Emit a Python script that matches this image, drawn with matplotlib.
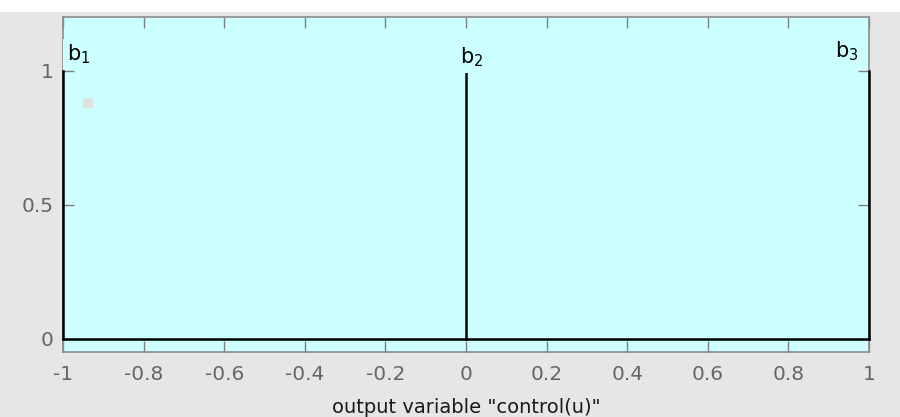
import matplotlib
matplotlib.use("Agg")
import matplotlib.pyplot as plt
from matplotlib.patches import Rectangle

plt.rcParams['font.family'] = ['DejaVu Sans']
plt.rcParams['mathtext.fontset'] = 'dejavusans'

# Singleton membership functions
mf_names = ["b_1", "b_2", "b_3"]
mf_centers = [-1.0, 0.0, 1.0]
mf_heights = [1.0, 1.0, 1.0]
x_range = [-1.0, 1.0]
xticks = [-1, -0.8, -0.6, -0.4, -0.2, 0, 0.2, 0.4, 0.6, 0.8, 1]
xtick_labels = ["-1", "-0.8", "-0.6", "-0.4", "-0.2", "0", "0.2", "0.4", "0.6", "0.8", "1"]
yticks = [0, 0.5, 1]
ytick_labels = ["0", "0.5", "1"]
xlabel = 'output variable "control(u)"'

W, H = 900, 417
fig = plt.figure(figsize=(W / 100, H / 100), dpi=100)
fig.patch.set_facecolor('#e6e6e6')
fig.patches.append(Rectangle((0, 1 - 12 / H), 1, 12 / H, transform=fig.transFigure,
                             facecolor='white', edgecolor='none', zorder=-1))

ax = fig.add_axes([63 / W, (H - 352) / H, (869 - 63) / W, (352 - 17) / H])
ax.set_facecolor('#ccffff')

# baseline and singleton spikes
ax.plot(x_range, [0, 0], color='black', lw=1.8, zorder=3, clip_on=False)
for name, c, h in zip(mf_names, mf_centers, mf_heights):
    ax.plot([c, c], [0, h], color='black', lw=1.8, zorder=3, clip_on=False)

# small grey marker near upper left (as in reference)
ax.add_patch(Rectangle(((83 - 63) / (869 - 63), (352 - 108) / (352 - 17)),
                       10 / (869 - 63), 10 / (352 - 17), transform=ax.transAxes,
                       facecolor='#e2e2e2', edgecolor='none', zorder=4))

label_pos = {"b_1": (-0.99, 1.037, 'left'),
             "b_2": (-0.015, 1.026, 'left'),
             "b_3": (0.973, 1.049, 'right')}
for name in mf_names:
    x, y, ha = label_pos[name]
    ax.text(x, y, r'$\mathregular{' + name + '}$', ha=ha, va='baseline',
            fontsize=15, color='black', zorder=5,
            bbox=dict(facecolor='#ccffff', edgecolor='none', pad=3))

ax.set_xlim(-1, 1)
ax.set_ylim(-0.05, 1.2)
ax.set_xticks(xticks)
ax.set_xticklabels(xtick_labels)
ax.set_yticks(yticks)
ax.set_yticklabels(ytick_labels)
ax.tick_params(direction='in', top=True, right=True, length=8, width=1,
               color='#7f7f7f', labelcolor='#666666', labelsize=14.5)
ax.tick_params(axis='x', pad=9.5)
ax.tick_params(axis='y', pad=7)
for s in ax.spines.values():
    s.set_color('#8c8c8c')
    s.set_linewidth(1.2)
ax.set_xlabel(xlabel, fontsize=14, color='#1a1a1a', labelpad=10)

fig.savefig('out.png', dpi=100, facecolor=fig.get_facecolor())
